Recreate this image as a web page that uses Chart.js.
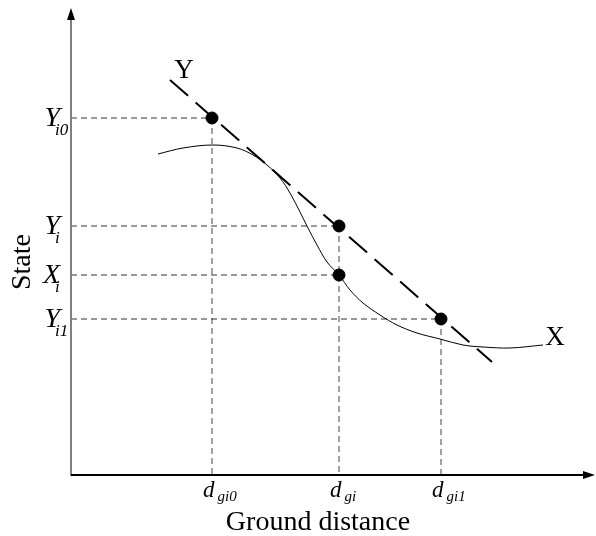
<!DOCTYPE html>
<html><head><meta charset="utf-8">
<script src="https://cdn.jsdelivr.net/npm/chart.js@4"></script>
<style>html,body{margin:0;padding:0;background:#fff}#wrap{width:596px;height:536px}</style>
</head><body><div id="wrap"><canvas id="c" width="596" height="536"></canvas></div>
<script>
// Schematic units (arbitrary): ground distance on x, state on y
const xTickValues = [2.82, 5.36, 7.40];
const xTickMain = ['d', 'd', 'd'];
const xTickSub = ['gi0', 'gi', 'gi1'];
const yTickValues = [7.14, 4.98, 4.00, 3.12];
const yTickMain = ['Y', 'Y', 'X', 'Y'];
const yTickSub = ['i0', 'i', 'i', 'i1'];

// Curve X (actual state)
const curveX = [1.74, 2.24, 2.84, 3.32, 3.64, 3.92, 4.18, 4.38, 4.58, 4.74, 4.92, 5.12, 5.36, 5.58, 5.84, 6.18, 6.52, 6.92, 7.38, 7.84, 8.24, 8.78, 9.44];
const curveY = [6.42, 6.54, 6.60, 6.54, 6.40, 6.20, 5.94, 5.64, 5.26, 4.94, 4.60, 4.26, 4.00, 3.70, 3.44, 3.20, 3.00, 2.84, 2.72, 2.60, 2.56, 2.54, 2.60];
// Straight line Y (dashed)
const lineYx = [1.98, 8.42];
const lineYy = [7.90, 2.26];
// Marked points
const markX = [2.82, 5.36, 5.36, 7.40];
const markY = [7.14, 4.98, 4.00, 3.12];
// Series name labels
const seriesNames = ['Y', 'X'];
const seriesNameX = [2.26, 9.68];
const seriesNameY = [8.12, 2.78];

const xTitle = 'Ground distance';
const yTitle = 'State';

const xy = (xs, ys) => xs.map((x, i) => ({x, y: ys[i]}));

const guideSets = [];
markX.forEach((mx, i) => {
  guideSets.push({type:'line', data:[{x:0,y:markY[i]},{x:mx,y:markY[i]}], borderColor:'#333', borderWidth:1, borderDash:[6,4], pointRadius:0, showLine:true, order:5});
});
xTickValues.forEach((xv) => {
  const ys = markY.filter((y, i) => markX[i] === xv);
  const top = Math.max(...ys);
  guideSets.push({type:'line', data:[{x:xv,y:top},{x:xv,y:0}], borderColor:'#444', borderWidth:1, borderDash:[6,4], pointRadius:0, showLine:true, order:5});
});

const decor = {
  id: 'decor',
  afterDraw(chart) {
    const ctx = chart.ctx, xs = chart.scales.x, ys = chart.scales.y, a = chart.chartArea;
    const x0 = xs.getPixelForValue(0), y0 = ys.getPixelForValue(0);
    ctx.save();
    // y axis
    ctx.strokeStyle = '#808080'; ctx.lineWidth = 2;
    ctx.beginPath(); ctx.moveTo(x0, y0 + 1); ctx.lineTo(x0, a.top + 10); ctx.stroke();
    ctx.fillStyle = '#000';
    ctx.beginPath(); ctx.moveTo(x0, a.top); ctx.lineTo(x0 - 4, a.top + 12); ctx.lineTo(x0 + 4, a.top + 12); ctx.closePath(); ctx.fill();
    // x axis
    ctx.strokeStyle = '#000'; ctx.lineWidth = 2;
    ctx.beginPath(); ctx.moveTo(x0, y0); ctx.lineTo(a.right - 10, y0); ctx.stroke();
    ctx.beginPath(); ctx.moveTo(a.right - 1, y0); ctx.lineTo(a.right - 13, y0 - 4); ctx.lineTo(a.right - 13, y0 + 4); ctx.closePath(); ctx.fill();

    // x tick labels
    ctx.fillStyle = '#000'; ctx.textBaseline = 'alphabetic'; ctx.textAlign = 'left';
    xTickValues.forEach((v, i) => {
      const px = xs.getPixelForValue(v);
      ctx.font = 'italic 23px "Liberation Serif"';
      const wm = ctx.measureText(xTickMain[i]).width;
      const start = px - 9;
      ctx.fillText(xTickMain[i], start, y0 + 22);
      ctx.font = 'italic 15px "Liberation Serif"';
      ctx.fillText(xTickSub[i], start + wm + 3, y0 + 26);
    });
    // y tick labels
    yTickValues.forEach((v, i) => {
      const py = ys.getPixelForValue(v);
      ctx.font = 'italic 28px "Liberation Serif"';
      ctx.textAlign = 'right';
      ctx.fillText(yTickMain[i], x0 - 11, py + 8);
      ctx.font = 'italic 17px "Liberation Serif"';
      ctx.textAlign = 'left';
      ctx.fillText(yTickSub[i], x0 - 16, py + 17);
    });
    // axis titles
    ctx.font = '28px "Liberation Serif"';
    ctx.textAlign = 'center';
    ctx.fillText(xTitle, 318, y0 + 55);
    ctx.save();
    ctx.translate(30, 262); ctx.rotate(-Math.PI / 2);
    ctx.fillText(yTitle, 0, 0);
    ctx.restore();
    // series names
    ctx.font = '27px "Liberation Serif"';
    seriesNames.forEach((n, i) => {
      ctx.fillText(n, xs.getPixelForValue(seriesNameX[i]), ys.getPixelForValue(seriesNameY[i]) + 9);
    });
    ctx.restore();
  }
};

new Chart(document.getElementById('c'), {
  type: 'scatter',
  data: {
    datasets: [
      {type:'line', data: xy(curveX, curveY), borderColor:'#000', borderWidth:1, pointRadius:0, tension:0.35, order:3},
      {type:'line', data: xy(lineYx, lineYy), borderColor:'#000', borderWidth:2, borderDash:[24,10], pointRadius:0, order:2},
      {type:'scatter', data: xy(markX, markY), backgroundColor:'#000', borderColor:'#000', pointRadius:6, order:1},
      ...guideSets
    ]
  },
  options: {
    responsive: false,
    animation: false,
    events: [],
    layout: {autoPadding: false, padding: {left: 71, right: 0, top: 8, bottom: 61}},
    plugins: {legend: {display:false}, tooltip: {enabled:false}},
    scales: {
      x: {type:'linear', min:0, max:10.5, display:false},
      y: {type:'linear', min:0, max:9.34, display:false}
    }
  },
  plugins: [decor]
});
</script>
</body></html>
